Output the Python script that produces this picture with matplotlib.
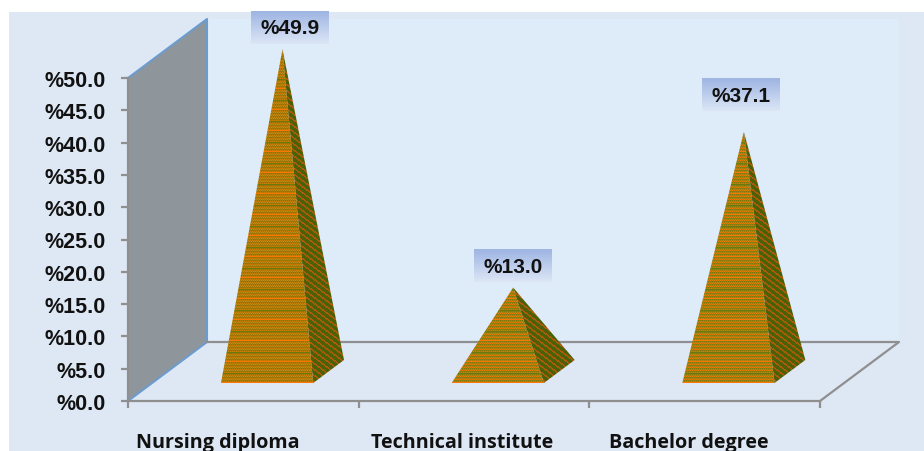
import numpy as np
import matplotlib
matplotlib.use('Agg')
import matplotlib.pyplot as plt
from matplotlib.patches import Polygon, Rectangle

categories = ['Nursing diploma', 'Technical institute', 'Bachelor degree']
values = [49.9, 13.0, 37.1]
y_ticks = [0, 5, 10, 15, 20, 25, 30, 35, 40, 45, 50]

# layout, in category units / percent
DX = 79 / 230.67   # depth shift of the 3d box
DY = 59 / 6.46
half_w = 0.2
left_gap = 0.2985
near, far = 0.305, 0.695
box_dx = [0.032, -0.001, -0.013]
box_dy = [3.35, 3.33, 5.7]
cat_x = [0.39, 1.45, 2.43]

GREY = '#8F8F8F'
BLUE = '#6C9BD0'


def proj(x, depth, h=0):
    return (x + depth * DX, h + depth * DY)


def stripes(kind):
    # fine woven orange / green texture of the pyramids
    n = 900
    yy, xx = np.mgrid[0:n, 0:n]
    img = np.zeros((n, n, 3))
    if kind == 'front':
        row = yy % 3
        col = xx % 2
        img[:] = (0.64, 0.48, 0.04)
        img[(row == 0) & (col == 0)] = (0.90, 0.50, 0.02)
        img[(row == 1) & (col == 1)] = (0.80, 0.50, 0.03)
        img[(row == 2) & (col == 0)] = (0.50, 0.48, 0.05)
        img[yy % 21 == 0] = (0.98, 0.47, 0.02)
        img[yy % 21 == 9] = (0.42, 0.48, 0.05)
    else:
        band = (yy + (xx * 0.75).astype(int)) % 6
        img[:] = (0.30, 0.38, 0.02)
        img[band < 2] = (0.68, 0.36, 0.04)
    return img


fig = plt.figure(figsize=(9.24, 4.52), dpi=100, facecolor='white')
fig.patches.append(Rectangle((9 / 924, 0), 915 / 924, 439 / 452, transform=fig.transFigure,
                             facecolor='#DEE8F4', edgecolor='none', zorder=-5))

ax = fig.add_axes([128 / 924, 50 / 452, 692 / 924, 323 / 452])
ax.patch.set_visible(False)

# back wall and floor
ax.add_patch(Polygon([proj(0, 1), proj(3, 1), proj(3, 1, 50), proj(0, 1, 50)], closed=True,
                     facecolor='#DEEBF9', edgecolor='none', clip_on=False, zorder=0))
ax.add_patch(Polygon([proj(0, 0), proj(0, 1), proj(0, 1, 50), proj(0, 0, 50)], closed=True,
                     facecolor='#8E969C', edgecolor='none', clip_on=False, zorder=1))
ax.plot(*zip(proj(0, 0), proj(0, 1), proj(0, 1, 50), proj(0, 0, 50)), color=BLUE, lw=1.5,
        clip_on=False, zorder=2)
ax.plot(*zip(proj(0, 1), proj(3, 1), proj(3, 0)), color=GREY, lw=1.6, clip_on=False, zorder=2)

# pyramids
for i, v in enumerate(values):
    left = i + left_gap
    right = left + 2 * half_w
    cx = (left + right) / 2
    apex = proj(cx, 0.5, v)
    front = [proj(left, near), proj(right, near), apex]
    side = [proj(right, near), proj(right, far), apex]
    for pts, kind in ((front, 'front'), (side, 'side')):
        xs = [p[0] for p in pts]
        ys = [p[1] for p in pts]
        poly = Polygon(pts, closed=True, facecolor='none', edgecolor='none', transform=ax.transData)
        ax.add_patch(poly)
        xmin, xmax, ymin, ymax = min(xs), max(xs), min(ys), max(ys)
        npx = int((xmax - xmin) * 230.67) + 1
        npy = int((ymax - ymin) * 6.46) + 1
        im = ax.imshow(stripes(kind)[:npy, :npx], extent=[xmin, xmax, ymin, ymax], aspect='auto',
                       interpolation='nearest', zorder=3, origin='lower')
        im.set_clip_box(fig.bbox)
        im.set_clip_path(poly)

# value labels
grad = np.zeros((33, 1, 3))
grad[:] = np.linspace((0.62, 0.71, 0.89), (0.86, 0.90, 0.96), 33)[:, None, :]
for i, v in enumerate(values):
    left = i + left_gap
    bx, by = proj(left + half_w, 0.5, v)
    bx += box_dx[i]
    by += box_dy[i]
    ax.imshow(grad, extent=[bx - 0.169, bx + 0.169, by - 2.55, by + 2.55], aspect='auto',
              zorder=4, clip_on=False)
    ax.text(bx, by, '%{:.1f}'.format(v), ha='center', va='center', fontsize=15, fontweight='bold',
            family='Liberation Sans', color='#111111', zorder=5, clip_on=False)

ax.set_xlim(0, 3)
ax.set_ylim(0, 50)
for s in ('top', 'right'):
    ax.spines[s].set_visible(False)
for s in ('left', 'bottom'):
    ax.spines[s].set_color(GREY)
    ax.spines[s].set_linewidth(1.6)
    ax.spines[s].set_zorder(2)
ax.set_xticks([0, 1, 2, 3])
ax.set_xticklabels([])
ax.set_yticks(y_ticks)
ax.set_yticklabels(['%{:.1f}'.format(t) for t in y_ticks], fontsize=15.5, fontweight='bold',
                   family='Liberation Sans', color='#111111')
ax.tick_params(axis='both', length=5, width=1.6, color=GREY)
ax.tick_params(axis='y', pad=11)

for x, c in zip(cat_x, categories):
    ax.text(x, -6.3, c, ha='center', va='center', fontsize=14.2, fontweight='bold',
            family='Open Sans', color='#111111', clip_on=False)

fig.savefig('out.png', dpi=100, facecolor='white')
